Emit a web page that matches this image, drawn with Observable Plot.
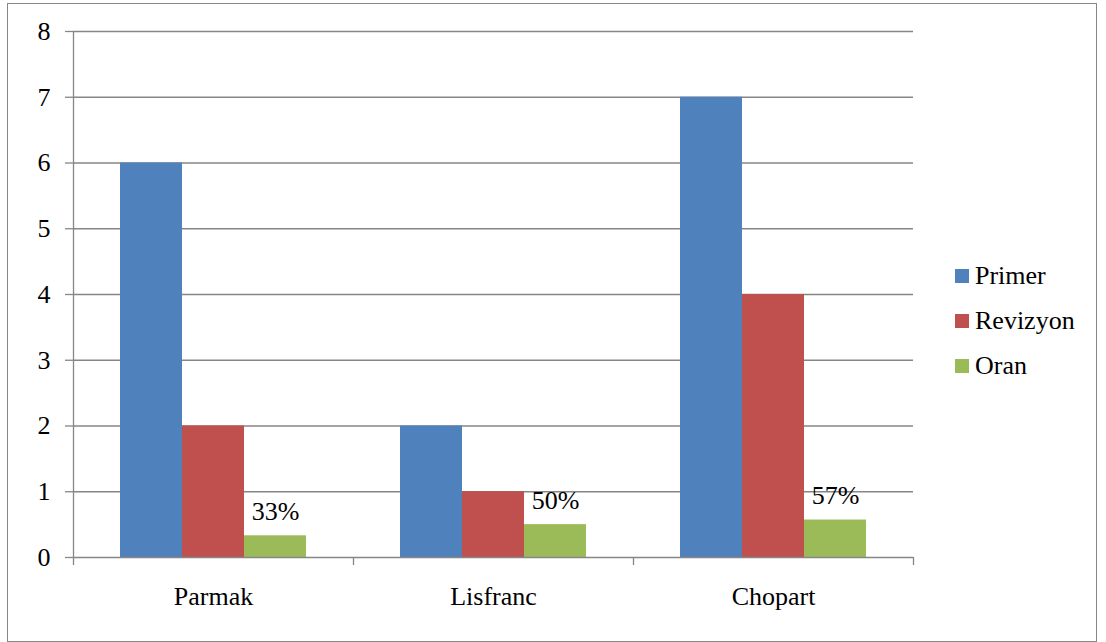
<!DOCTYPE html>
<html>
<head>
<meta charset="utf-8">
<script src="https://cdn.jsdelivr.net/npm/d3@7"></script>
<script src="https://cdn.jsdelivr.net/npm/@observablehq/plot@0.6"></script>
<style>
  body { margin: 0; background: #fff; }
  #chart { position: relative; width: 1106px; height: 642px; font-family: 'Liberation Serif', serif; }
  #border { position: absolute; left: 7px; top: 3px; width: 1090px; height: 639px; border: 1.5px solid #878787; box-sizing: border-box; pointer-events: none; }
  #plot { position: absolute; left: 0; top: 0; }
  #legend { position: absolute; left: 955px; top: 253px; font-size: 26px; color: #000; font-family: 'Liberation Serif', serif; }
  .item { display: flex; align-items: center; height: 45px; }
  .swatch { width: 14px; height: 14px; margin-right: 6px; flex: none; }
</style>
</head>
<body>
<div id="chart">
  <div id="plot"></div>
  <div id="legend"></div>
  <div id="border"></div>
</div>
<script>
// Amputation levels and counts per group
const categories = ["Parmak", "Lisfranc", "Chopart"];
const seriesNames = ["Primer", "Revizyon", "Oran"];
const primer = [6, 2, 7];
const revizyon = [2, 1, 4];
const oran = [0.33, 0.50, 0.57];
const seriesColors = ["#4F81BD", "#C0504D", "#9BBB59"];
const yTicks = [0, 1, 2, 3, 4, 5, 6, 7, 8];

const pct = d3.format(".0%");

const rows = categories.flatMap((c, i) => [
  {category: c, series: "Primer", value: primer[i]},
  {category: c, series: "Revizyon", value: revizyon[i]},
  {category: c, series: "Oran", value: oran[i]}
]);
const firstRows = rows.filter(d => d.series === seriesNames[0]);
const lastRows = rows.filter(d => d.series === seriesNames[seriesNames.length - 1]);

// layout
const width = 1106, height = 642;
const marginLeft = 73, marginRight = 193, marginTop = 31, marginBottom = 85;
const paddingOuter = 0.758;
const gridColor = "#868686";
const serif = "'Liberation Serif', serif";

// distance from a bar centre to the edge of its group, and tick depth in data units
const groupWidth = (width - marginLeft - marginRight) / categories.length;
const step = groupWidth / (seriesNames.length + 2 * paddingOuter);
const edgeOffset = step * (paddingOuter + 0.5);
const yMax = yTicks[yTicks.length - 1];
const tickDepth = -8 * yMax / (height - marginTop - marginBottom);

const chart = Plot.plot({
  width, height, marginLeft, marginRight, marginTop, marginBottom,
  style: {fontFamily: serif, fontSize: "26px", color: "#000", background: "transparent", overflow: "visible"},
  fx: {domain: categories, padding: 0, label: null},
  x: {domain: seriesNames, paddingInner: 0, paddingOuter, axis: null},
  y: {domain: [0, yMax], label: null},
  color: {domain: seriesNames, range: seriesColors},
  marks: [
    Plot.gridY({ticks: yTicks.slice(1), stroke: gridColor, strokeOpacity: 1, strokeWidth: 1.3}),
    Plot.barY(rows, {fx: "category", x: "series", y: "value", fill: "series"}),
    Plot.ruleY([0], {stroke: gridColor, strokeWidth: 1.3}),
    // vertical axis line
    Plot.ruleX(firstRows.slice(0, 1), {fx: "category", x: "series", y1: 0, y2: yMax, dx: -edgeOffset, stroke: gridColor, strokeWidth: 1.3}),
    // ticks under the baseline at group boundaries
    Plot.ruleX(firstRows, {fx: "category", x: "series", y1: 0, y2: tickDepth, dx: -edgeOffset, stroke: gridColor, strokeWidth: 1.3}),
    Plot.ruleX(lastRows.slice(-1), {fx: "category", x: "series", y1: 0, y2: tickDepth, dx: edgeOffset, stroke: gridColor, strokeWidth: 1.3}),
    Plot.axisY({ticks: yTicks, tickFormat: "d", tickSize: 8, tickPadding: 15, stroke: gridColor, strokeWidth: 1.3, fontFamily: serif, label: null}),
    Plot.axisFx({anchor: "bottom", tickSize: 0, tickPadding: 29, fontFamily: serif, label: null}),
    Plot.text(lastRows, {fx: "category", x: "series", y: "value", text: d => pct(d.value), lineAnchor: "middle", dy: -24, fill: "#000", fontFamily: serif})
  ]
});
document.getElementById("plot").append(chart);

// legend on the right
const legend = d3.select("#legend");
seriesNames.forEach((name, i) => {
  const item = legend.append("div").attr("class", "item");
  item.append("div").attr("class", "swatch").style("background", seriesColors[i]);
  item.append("span").text(name);
});
</script>
</body>
</html>
